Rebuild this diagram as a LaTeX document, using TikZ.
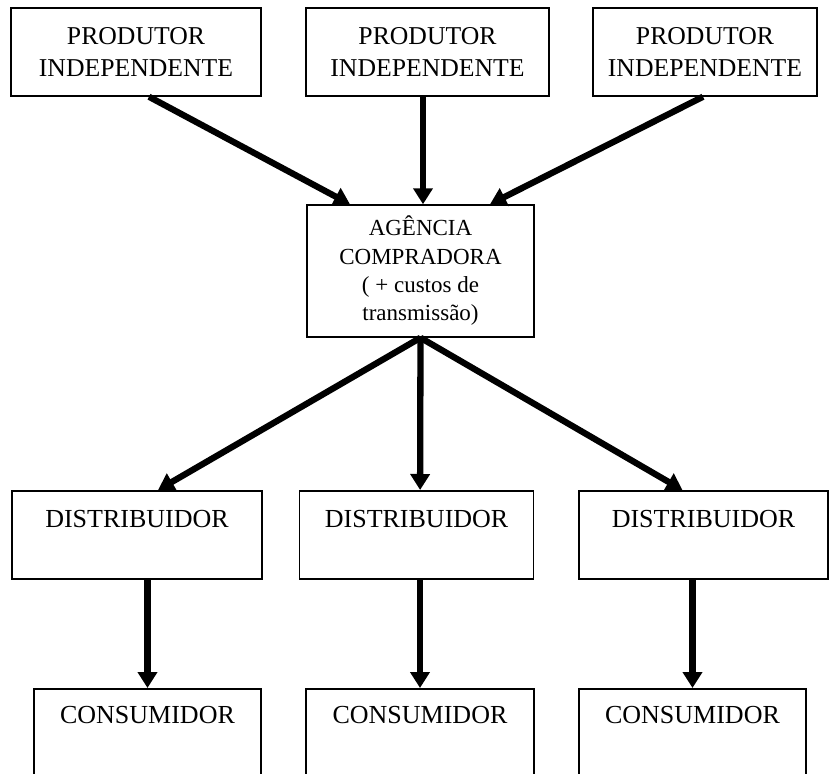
\documentclass[tikz,border=0pt]{standalone}
\usepackage{fontspec}
\setmainfont{Liberation Serif}
\usetikzlibrary{arrows.meta}
\begin{document}
\begin{tikzpicture}[x=1pt,y=-1pt,
  box/.style={draw, line width=1.5pt, inner sep=0pt, align=center},
  prodbox/.style={box, minimum height=88pt, font={\fontsize{25.7pt}{32pt}\selectfont}},
  agbox/.style={box, minimum height=132pt, font={\fontsize{23pt}{28.3pt}\selectfont}},
  distbox/.style={box, anchor=north, text height=37pt, text depth=51pt, font={\fontsize{26pt}{32pt}\selectfont}},
  consbox/.style={box, anchor=north, text height=35pt, text depth=110pt, font={\fontsize{26pt}{32pt}\selectfont}},
  flow/.style={line width=6.3pt, -{Triangle[length=16pt,width=19pt]}}]
\useasboundingbox (0,0) rectangle (839,774);
\begin{scope}
\clip (0,0) rectangle (839,774);

% producers
\node[prodbox, minimum width=250pt] (p1) at (136,52) {PRODUTOR\\INDEPENDENTE};
\node[prodbox, minimum width=243pt] (p2) at (427.5,52) {PRODUTOR\\INDEPENDENTE};
\node[prodbox, minimum width=224pt] (p3) at (705,52) {PRODUTOR\\INDEPENDENTE};

% buying agency
\node[agbox, minimum width=227pt] (ag) at (420.5,271) {AGÊNCIA\\COMPRADORA\\( + custos de\\transmissão)};

% distributors
\node[distbox, minimum width=250pt] (d1) at (137,490) {DISTRIBUIDOR};
\node[distbox, minimum width=234pt] (d2) at (416.6,490) {DISTRIBUIDOR};
\node[distbox, minimum width=249pt] (d3) at (703.5,490) {DISTRIBUIDOR};

% consumers
\node[consbox, minimum width=227pt] (c1) at (147.5,688) {CONSUMIDOR};
\node[consbox, minimum width=228pt] (c2) at (420,688) {CONSUMIDOR};
\node[consbox, minimum width=227pt] (c3) at (692.5,688) {CONSUMIDOR};

% flows
\draw[flow] ([xshift=13pt]p1.south) -- ([xshift=-70.5pt]ag.north);
\draw[flow] ([xshift=-4.5pt]p2.south) -- ([xshift=2.5pt]ag.north);
\draw[flow] ([xshift=-2pt]p3.south) -- ([xshift=69.5pt]ag.north);

\draw[flow] (ag.south) -- ([xshift=21pt]d1.north);
\draw[flow] (ag.south) -- ([xshift=3.5pt]d2.north);
\draw[flow] (ag.south) -- ([xshift=-21pt]d3.north);

\draw[flow] (c1.north |- d1.south) -- (c1.north);
\draw[flow] (c2.north |- d2.south) -- (c2.north);
\draw[flow] (c3.north |- d3.south) -- (c3.north);
\end{scope}
\end{tikzpicture}
\end{document}
